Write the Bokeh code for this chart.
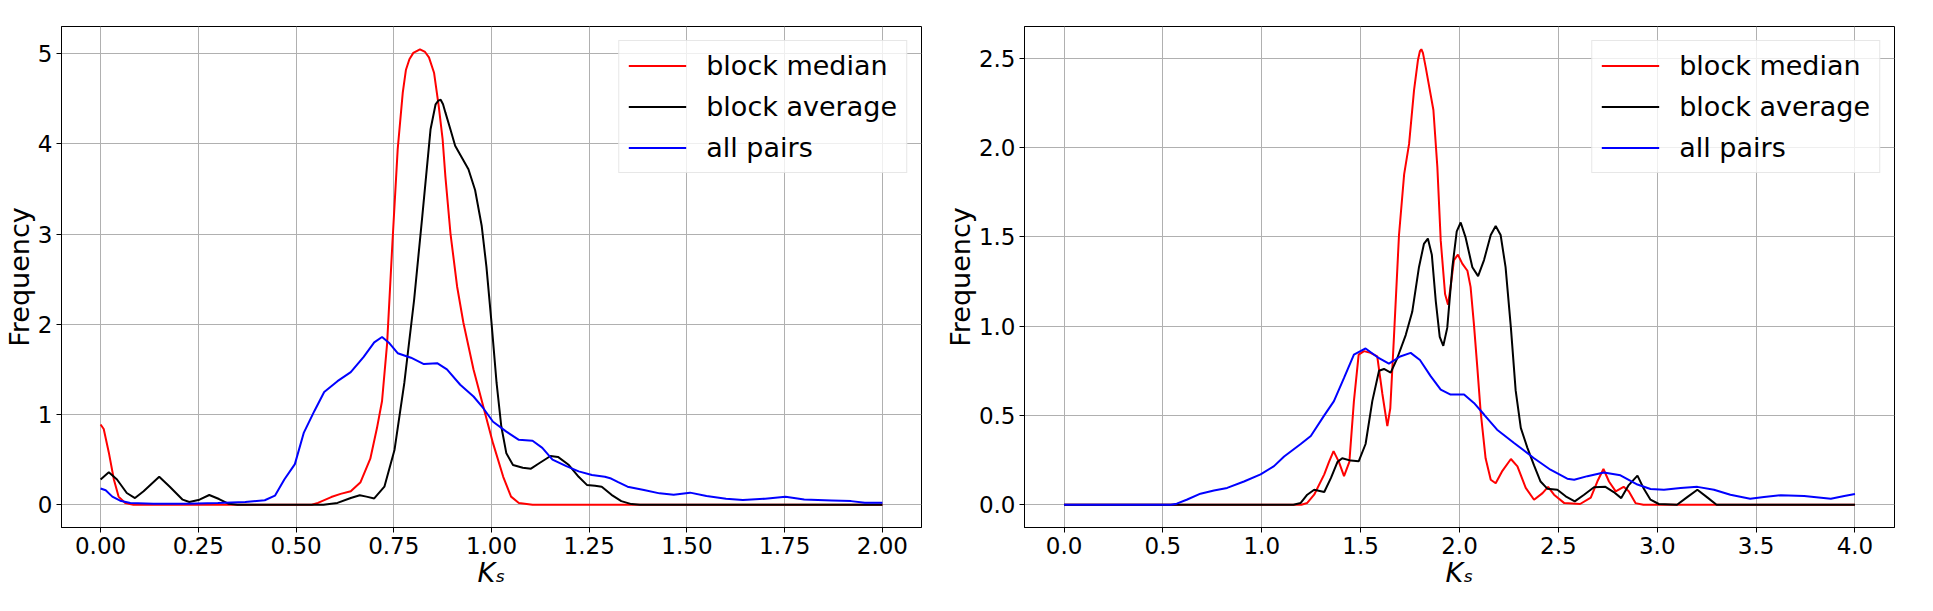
from bokeh.plotting import figure
from bokeh.layouts import row
from bokeh.models import Range1d, FixedTicker, PrintfTickFormatter, Legend, LegendItem
from bokeh.embed import file_html
from bokeh.resources import INLINE

# ---------------- left panel data ----------------
left_median_x = [0, 0.008, 0.021, 0.034, 0.046, 0.063, 0.084, 0.54, 0.556, 0.59, 0.614, 0.64, 0.665,
                 0.69, 0.707, 0.72, 0.733, 0.747, 0.76, 0.773, 0.781, 0.79, 0.80, 0.817, 0.83, 0.84,
                 0.853, 0.865, 0.875, 0.882, 0.895, 0.912, 0.928, 0.954, 0.979, 1.004, 1.03, 1.05,
                 1.07, 1.105, 2.0]
left_median_y = [0.89, 0.84, 0.58, 0.28, 0.09, 0.02, 0.0, 0.0, 0.02, 0.085, 0.12, 0.15, 0.25,
                 0.51, 0.85, 1.15, 1.79, 2.94, 3.94, 4.57, 4.82, 4.94, 5.01, 5.05, 5.02, 4.96,
                 4.79, 4.42, 4.05, 3.64, 3.01, 2.42, 2.02, 1.50, 1.09, 0.68, 0.31, 0.09,
                 0.02, 0.0, 0.0]

left_average_x = [0, 0.021, 0.042, 0.067, 0.088, 0.11, 0.15, 0.177, 0.21, 0.227, 0.253, 0.278, 0.303,
                  0.328, 0.35, 0.57, 0.606, 0.64, 0.663, 0.68, 0.70, 0.726, 0.752, 0.777, 0.802, 0.823,
                  0.844, 0.857, 0.864, 0.87, 0.876, 0.882, 0.895, 0.907, 0.924, 0.941, 0.958, 0.975,
                  0.987, 1.0, 1.013, 1.025, 1.038, 1.055, 1.08, 1.101, 1.122, 1.151, 1.17, 1.198,
                  1.223, 1.244, 1.265, 1.282, 1.307, 1.332, 1.358, 1.38, 2.0]
left_average_y = [0.28, 0.36, 0.28, 0.13, 0.074, 0.15, 0.31, 0.20, 0.056, 0.03, 0.056, 0.108, 0.063,
                  0.01, 0.0, 0.0, 0.02, 0.074, 0.105, 0.09, 0.07, 0.20, 0.61, 1.35, 2.27, 3.20,
                  4.16, 4.44, 4.48, 4.49, 4.44, 4.35, 4.16, 3.98, 3.85, 3.72, 3.49, 3.09,
                  2.64, 2.02, 1.35, 0.87, 0.57, 0.44, 0.41, 0.40, 0.46, 0.54, 0.53, 0.44,
                  0.31, 0.22, 0.21, 0.20, 0.11, 0.04, 0.007, 0.0, 0.0]

left_all_x = [0, 0.013, 0.03, 0.05, 0.076, 0.135, 0.22, 0.30, 0.37, 0.42, 0.446, 0.47, 0.497, 0.52,
              0.547, 0.572, 0.606, 0.64, 0.673, 0.70, 0.72, 0.739, 0.76, 0.794, 0.827, 0.861, 0.886,
              0.92, 0.954, 0.979, 1.004, 1.038, 1.07, 1.105, 1.13, 1.156, 1.19, 1.223, 1.257, 1.29,
              1.306, 1.324, 1.348, 1.39, 1.43, 1.466, 1.508, 1.55, 1.60, 1.643, 1.70, 1.752, 1.80,
              1.87, 1.92, 1.955, 2.0]
left_all_y = [0.18, 0.16, 0.09, 0.045, 0.02, 0.01, 0.01, 0.02, 0.03, 0.05, 0.10, 0.28, 0.45, 0.80,
              1.04, 1.25, 1.37, 1.47, 1.64, 1.80, 1.86, 1.79, 1.68, 1.63, 1.56, 1.57, 1.50,
              1.33, 1.20, 1.07, 0.92, 0.81, 0.72, 0.71, 0.63, 0.50, 0.43, 0.37, 0.33, 0.31,
              0.29, 0.25, 0.20, 0.163, 0.126, 0.11, 0.134, 0.096, 0.067, 0.052, 0.067, 0.089, 0.059,
              0.048, 0.04, 0.022, 0.022]

# ---------------- right panel data ----------------
right_median_x = [0, 1.2, 1.23, 1.265, 1.316, 1.34, 1.363, 1.39, 1.416, 1.443, 1.466, 1.49, 1.517,
                  1.55, 1.584, 1.61, 1.635, 1.65, 1.669, 1.694, 1.72, 1.745, 1.77, 1.79, 1.80, 1.807,
                  1.815, 1.829, 1.868, 1.888, 1.905, 1.927, 1.942, 1.955, 1.972, 1.992, 2.014, 2.04,
                  2.056, 2.073, 2.09, 2.107, 2.132, 2.158, 2.183, 2.217, 2.26, 2.293, 2.335, 2.377,
                  2.42, 2.448, 2.478, 2.53, 2.61, 2.664, 2.697, 2.728, 2.756, 2.79, 2.83, 2.856,
                  2.89, 2.93, 4.0]
right_median_y = [0, 0, 0.01, 0.056, 0.17, 0.24, 0.30, 0.24, 0.16, 0.24, 0.58, 0.84, 0.86,
                  0.85, 0.83, 0.62, 0.44, 0.54, 0.95, 1.51, 1.85, 2.02, 2.32, 2.49, 2.54, 2.55,
                  2.53, 2.45, 2.21, 1.89, 1.48, 1.18, 1.12, 1.22, 1.37, 1.40, 1.35, 1.31,
                  1.22, 1.01, 0.77, 0.52, 0.26, 0.14, 0.12, 0.19, 0.256, 0.215, 0.094, 0.028,
                  0.065, 0.10, 0.056, 0.009, 0.004, 0.04, 0.13, 0.20, 0.13, 0.075, 0.10, 0.075,
                  0.009, 0, 0]

right_average_x = [0, 1.16, 1.197, 1.23, 1.265, 1.316, 1.35, 1.383, 1.407, 1.45, 1.49, 1.525, 1.559,
                   1.593, 1.618, 1.652, 1.685, 1.728, 1.761, 1.795, 1.82, 1.84, 1.86, 1.88, 1.90,
                   1.918, 1.938, 1.964, 1.986, 2.006, 2.03, 2.065, 2.094, 2.124, 2.158, 2.183, 2.208,
                   2.233, 2.26, 2.284, 2.31, 2.343, 2.377, 2.41, 2.444, 2.495, 2.537, 2.583, 2.63,
                   2.68, 2.738, 2.78, 2.818, 2.856, 2.90, 2.93, 2.966, 3.008, 3.10, 3.15, 3.203,
                   3.253, 3.30, 4.0]
right_average_y = [0, 0, 0.01, 0.056, 0.084, 0.071, 0.15, 0.24, 0.26, 0.247, 0.243, 0.34, 0.58,
                   0.75, 0.76, 0.74, 0.82, 0.95, 1.08, 1.33, 1.46, 1.49, 1.40, 1.14, 0.94,
                   0.89, 0.99, 1.33, 1.53, 1.58, 1.50, 1.33, 1.28, 1.37, 1.51, 1.56, 1.51,
                   1.33, 0.99, 0.64, 0.43, 0.32, 0.22, 0.13, 0.09, 0.084, 0.047, 0.019, 0.056,
                   0.098, 0.10, 0.071, 0.037, 0.11, 0.163, 0.094, 0.028, 0.004, 0, 0.041, 0.084,
                   0.041, 0, 0]

right_all_x = [0, 0.54, 0.57, 0.62, 0.69, 0.758, 0.825, 0.91, 0.994, 1.062, 1.113, 1.197, 1.248,
               1.316, 1.365, 1.416, 1.466, 1.525, 1.584, 1.643, 1.70, 1.753, 1.80, 1.854, 1.905,
               1.955, 2.023, 2.073, 2.124, 2.19, 2.276, 2.377, 2.46, 2.545, 2.58, 2.647, 2.73,
               2.814, 2.90, 2.966, 3.034, 3.118, 3.203, 3.287, 3.37, 3.47, 3.54, 3.625, 3.743,
               3.878, 3.946, 4.0]
right_all_y = [0, 0, 0.006, 0.028, 0.062, 0.08, 0.094, 0.13, 0.17, 0.216, 0.27, 0.34, 0.385,
               0.50, 0.58, 0.71, 0.84, 0.875, 0.827, 0.79, 0.83, 0.85, 0.81, 0.72, 0.645,
               0.617, 0.617, 0.57, 0.505, 0.42, 0.346, 0.26, 0.196, 0.146, 0.14, 0.16, 0.18,
               0.165, 0.113, 0.088, 0.084, 0.094, 0.10, 0.084, 0.056, 0.034, 0.043, 0.053, 0.049,
               0.034, 0.049, 0.06]

series_names = ["block median", "block average", "all pairs"]
series_colors = ["#ff0000", "#000000", "#0000ff"]

left_xticks = [0, 0.25, 0.5, 0.75, 1.0, 1.25, 1.5, 1.75, 2.0]
left_yticks = [0, 1, 2, 3, 4, 5]
right_xticks = [0, 0.5, 1.0, 1.5, 2.0, 2.5, 3.0, 3.5, 4.0]
right_yticks = [0, 0.5, 1.0, 1.5, 2.0, 2.5]

x_label = "Kₛ"
y_label = "Frequency"

FONT = "DejaVu Sans"


def make_panel(xr, yr, xticks, yticks, xfmt, yfmt, curves, fw, left, right):
    p = figure(frame_width=fw, frame_height=501,
               x_range=Range1d(*xr), y_range=Range1d(*yr),
               output_backend="svg", toolbar_location=None,
               min_border_left=left, min_border_right=right,
               min_border_top=26, min_border_bottom=40)
    p.background_fill_color = "white"
    p.border_fill_color = "white"
    p.outline_line_color = "black"
    p.outline_line_width = 1
    p.outline_line_alpha = 1.0
    for ax in (p.xaxis[0], p.yaxis[0]):
        ax.axis_line_color = "black"
        ax.major_tick_line_color = "black"
        ax.major_tick_out = 5
        ax.major_tick_in = 0
        ax.minor_tick_line_color = None
        ax.major_label_text_font = FONT
        ax.major_label_text_font_size = "23px"
        ax.major_label_text_color = "black"
        ax.axis_label_text_font = FONT
        ax.axis_label_text_font_size = "27px"
        ax.axis_label_text_color = "black"
        ax.major_label_standoff = 4
        ax.axis_label_standoff = 0
    p.xaxis.ticker = FixedTicker(ticks=xticks)
    p.yaxis.ticker = FixedTicker(ticks=yticks)
    p.xaxis.formatter = PrintfTickFormatter(format=xfmt)
    p.yaxis.formatter = PrintfTickFormatter(format=yfmt)
    p.xaxis.axis_label = x_label
    p.xaxis.axis_label_text_font_style = "italic"
    p.yaxis.axis_label = y_label
    p.yaxis.axis_label_text_font_style = "normal"
    p.grid.grid_line_color = "#b0b0b0"
    p.grid.grid_line_width = 1

    items = []
    for name, color, (xs, ys) in zip(series_names, series_colors, curves):
        r = p.line(xs, ys, line_color=color, line_width=2)
        items.append(LegendItem(label=name, renderers=[r]))
    leg = Legend(items=items, location="top_right", margin=14, padding=9,
                 spacing=10, glyph_width=58, glyph_height=31, label_height=31,
                 label_standoff=20,
                 label_text_font=FONT, label_text_font_size="27px",
                 label_text_color="black",
                 border_line_color="#d0d0d0", border_line_width=1,
                 background_fill_color="white", background_fill_alpha=0.8)
    p.add_layout(leg)
    return p


p1 = make_panel((-0.1, 2.1), (-0.2525, 5.3025), left_xticks, left_yticks, "%.2f", "%d",
                [(left_median_x, left_median_y), (left_average_x, left_average_y),
                 (left_all_x, left_all_y)], 860, 45, 20)
p2 = make_panel((-0.2, 4.2), (-0.1275, 2.6775), right_xticks, right_yticks, "%.1f", "%.1f",
                [(right_median_x, right_median_y), (right_average_x, right_average_y),
                 (right_all_x, right_all_y)], 870, 77, 30)

layout = row(p1, p2)
open("out.html", "w").write(file_html(layout, INLINE))
